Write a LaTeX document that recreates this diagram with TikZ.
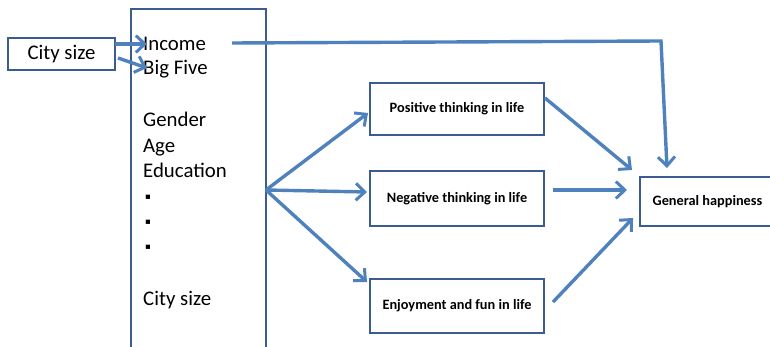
\documentclass[tikz,border=0pt]{standalone}
\usepackage{fontspec}
\setmainfont{Carlito}
\newfontfamily\symfont{DejaVu Sans}
\usetikzlibrary{arrows.meta}
\definecolor{boxline}{HTML}{3B5C8C}
\definecolor{arrowc}{HTML}{4F81BD}
\begin{document}
\begin{tikzpicture}[x=1pt,y=-1pt,
  box/.style={draw=boxline,line width=2.2pt,inner sep=0pt},
  big/.style={font=\fontsize{20.8}{24}\selectfont,anchor=base west,inner sep=0pt},
  dot/.style={font=\symfont\fontsize{8.5}{10}\selectfont,anchor=center,inner sep=0pt},
  small/.style={font=\fontsize{14.3}{16}\selectfont\bfseries,inner sep=0pt},
  arr/.style={draw=arrowc,line width=3.4pt,-{Straight Barb[length=9pt,width=17pt,line width=3pt]}}]
\useasboundingbox (0,0) rectangle (770,347);
% boxes
\node[box,minimum width=107pt,minimum height=32pt] (city) at (61.5,54) {};
\node[font=\fontsize{20.8}{24}\selectfont] (citytxt) at (61.5,54) {City size};
\draw[boxline,line width=2.2pt] (131,352) -- (131,9) -- (266,9) -- (266,352);
\coordinate (bigR) at (266,190);
\node[big] (income) at (143,51) {Income};
\node[big] (bigfive) at (143,75) {Big Five};
\node[big] (gender) at (143,127) {Gender};
\node[big] (age) at (143,152.5) {Age};
\node[big] (edu) at (143,178) {Education};
\node[dot] (d1) at (148,197) {▪};
\node[dot] (d2) at (148,222) {▪};
\node[dot] (d3) at (148,247) {▪};
\node[big] (city2) at (143,305) {City size};

\node[box,minimum width=174pt,minimum height=52pt] (pos) at (457,109) {};
\node[small] at (pos) {Positive thinking in life};
\node[box,minimum width=174pt,minimum height=55pt] (neg) at (457,198.5) {};
\node[small] at (neg) {Negative thinking in life};
\node[box,minimum width=174pt,minimum height=54pt] (enj) at (457,306) {};
\node[small] at (enj) {Enjoyment and fun in life};
\node[box,minimum width=135pt,minimum height=49pt] (gen) at (707.5,201.5) {};
\node[small] at (gen) {General happiness};

% arrows
\coordinate (c1s) at (115,44); \coordinate (c1e) at (147,44);
\coordinate (c2s) at (118,58); \coordinate (c2e) at (147,68);
\draw[arr] (c1s) -- (c1e);
\draw[arr] (c2s) -- (c2e);
\coordinate (incS) at (232,43); \coordinate (incC) at (661,41); \coordinate (incE) at (667,168);
\draw[arr,line join=miter] (incS) -- (incC) -- (incE);
\coordinate (pe) at (368,113); \coordinate (ne) at (367,192); \coordinate (ee) at (367,282);
\draw[arr] (bigR) -- (pe);
\draw[arr] (bigR) -- (ne);
\draw[arr] (bigR) -- (ee);
\coordinate (ps) at (545,98); \coordinate (pg) at (632,170);
\coordinate (ns) at (553,190); \coordinate (ng) at (627,190);
\coordinate (es) at (553,302); \coordinate (eg) at (633,218);
\draw[arr] (ps) -- (pg);
\draw[arr] (ns) -- (ng);
\draw[arr] (es) -- (eg);
\end{tikzpicture}
\end{document}
